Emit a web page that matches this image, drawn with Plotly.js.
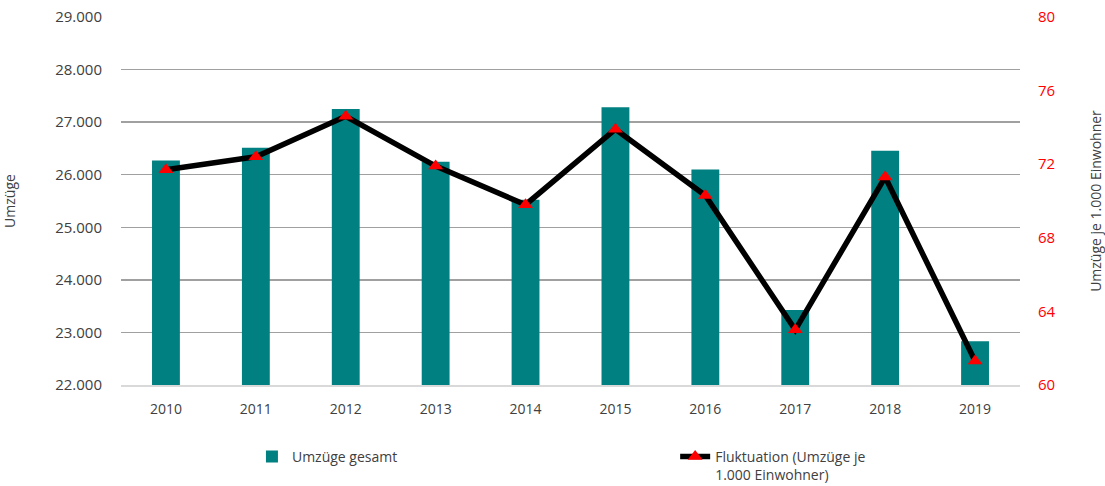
<!DOCTYPE html>
<html>
<head>
<meta charset="utf-8">
<script src="https://cdn.plot.ly/plotly-3.0.1.min.js"></script>
<style>
  body { margin: 0; background: #fff; }
  #chart { width: 1105px; height: 486px; }
</style>
</head>
<body>
<div id="chart"></div>
<script>
// Jahre und Werte
const years = ['2010', '2011', '2012', '2013', '2014', '2015', '2016', '2017', '2018', '2019'];
const umzuegeGesamt = [26270, 26515, 27250, 26245, 25525, 27285, 26100, 23425, 26455, 22830];
const fluktuation = [71.7, 72.4, 74.6, 71.9, 69.8, 73.9, 70.3, 63.0, 71.3, 61.3];

const textColor = '#404040';

const barTrace = {
  type: 'bar',
  x: years,
  y: umzuegeGesamt,
  name: 'Umzüge gesamt',
  width: 0.31,
  marker: { color: '#008080' },
  yaxis: 'y',
  legend: 'legend'
};

const lineTrace = {
  type: 'scatter',
  mode: 'lines+markers',
  x: years,
  y: fluktuation,
  name: 'Fluktuation (Umzüge je<br>1.000 Einwohner)',
  line: { color: '#000000', width: 5.5 },
  marker: { symbol: 'triangle-up', color: '#ff0000', size: 13 },
  yaxis: 'y2',
  legend: 'legend2'
};

// Legenden relativ zum Container, damit sie den Plotbereich nicht verschieben
const legendBase = {
  orientation: 'h',
  xref: 'container',
  yref: 'container',
  xanchor: 'left',
  yanchor: 'top',
  y: 0.093,
  valign: 'top',
  font: { size: 14, color: textColor },
  bgcolor: 'rgba(0,0,0,0)'
};

const layout = {
  width: 1105,
  height: 486,
  margin: { l: 121, r: 85, t: 17, b: 101 },
  paper_bgcolor: '#ffffff',
  plot_bgcolor: '#ffffff',
  separators: ',.',
  font: { family: '"Open Sans", sans-serif', size: 15, color: textColor },
  xaxis: {
    type: 'category',
    range: [-0.5, 9.5],
    automargin: false,
    showgrid: false,
    showline: true,
    linecolor: '#d9d9d9',
    linewidth: 2,
    ticks: '',
    ticklabelstandoff: 10,
    tickfont: { size: 14, color: textColor }
  },
  yaxis: {
    title: { text: 'Umzüge', standoff: 90, font: { size: 14, color: textColor } },
    automargin: false,
    range: [22000, 29000],
    dtick: 1000,
    tickformat: ',d',
    showgrid: true,
    gridcolor: '#a0a0a0',
    gridwidth: 1.5,
    zeroline: false,
    showline: false,
    ticks: '',
    ticklabelstandoff: 18,
    tickfont: { size: 15, color: textColor }
  },
  yaxis2: {
    title: { text: 'Umzüge je 1.000 Einwohner', standoff: 40, font: { size: 14, color: textColor } },
    automargin: false,
    overlaying: 'y',
    side: 'right',
    range: [60, 80],
    dtick: 4,
    showgrid: false,
    zeroline: false,
    showline: false,
    ticks: '',
    ticklabelstandoff: 17,
    tickfont: { size: 15, color: '#ff0000' }
  },
  showlegend: true,
  legend: Object.assign({}, legendBase, { x: 0.228 }),
  legend2: Object.assign({}, legendBase, { x: 0.611 })
};

Plotly.newPlot('chart', [barTrace, lineTrace], layout, { displayModeBar: false, staticPlot: true });
</script>
</body>
</html>
